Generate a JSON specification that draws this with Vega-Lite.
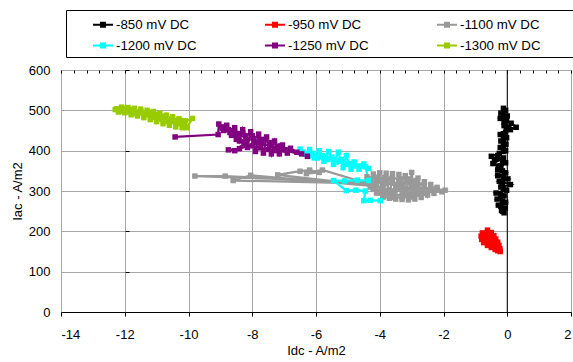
{
"$schema": "https://vega.github.io/schema/vega-lite/v6.json",
"width": 510, "height": 242,
"autosize": {"type": "none"},
"padding": {"left": 61, "top": 70, "right": 2, "bottom": 50},
"background": "white",
"config": {"font": "Liberation Sans", "view": {"stroke": null},
 "axis": {"labelFont": "Liberation Sans", "titleFont": "Liberation Sans", "labelFontSize": 13, "titleFontSize": 13, "labelColor": "black", "titleColor": "black", "titleFontWeight": "normal"},
 "legend": {"orient": "none", "legendX": 5, "legendY": -60, "direction": "horizontal", "columns": 3,
     "titleOrient": "left", "titlePadding": 22.5, "titleFontSize": 13,
     "strokeColor": "black", "strokeWidth": 1, "padding": 4.5, "fillColor": "white",
     "symbolType": "M-1,-0.1H1V0.1H-1Z M-0.3,-0.3H0.3V0.3H-0.3Z", "symbolSize": 400, "symbolStrokeWidth": 0, "symbolOpacity": 1,
     "labelFont": "Liberation Sans", "labelFontSize": 13.3, "labelColor": "black", "labelOffset": 3,
     "columnPadding": 35, "rowPadding": 4}},
"data": {"values": [
{"s":"-850 mV DC","i":1,"x":-0.12,"y":505},{"s":"-850 mV DC","i":2,"x":-0.05,"y":500},{"s":"-850 mV DC","i":3,"x":-0.2,"y":493},{"s":"-850 mV DC","i":4,"x":0.0,"y":486},{"s":"-850 mV DC","i":5,"x":-0.22,"y":480},{"s":"-850 mV DC","i":6,"x":-0.02,"y":474},{"s":"-850 mV DC","i":7,"x":0.12,"y":468},{"s":"-850 mV DC","i":8,"x":0.28,"y":458},{"s":"-850 mV DC","i":9,"x":0.1,"y":452},{"s":"-850 mV DC","i":10,"x":-0.1,"y":462},{"s":"-850 mV DC","i":11,"x":-0.05,"y":446},{"s":"-850 mV DC","i":12,"x":-0.22,"y":440},{"s":"-850 mV DC","i":13,"x":-0.02,"y":432},{"s":"-850 mV DC","i":14,"x":-0.2,"y":424},{"s":"-850 mV DC","i":15,"x":-0.04,"y":416},{"s":"-850 mV DC","i":16,"x":-0.22,"y":408},{"s":"-850 mV DC","i":17,"x":-0.05,"y":400},{"s":"-850 mV DC","i":18,"x":-0.25,"y":393},{"s":"-850 mV DC","i":19,"x":-0.5,"y":386},{"s":"-850 mV DC","i":20,"x":-0.4,"y":378},{"s":"-850 mV DC","i":21,"x":-0.12,"y":382},{"s":"-850 mV DC","i":22,"x":-0.45,"y":368},{"s":"-850 mV DC","i":23,"x":-0.28,"y":362},{"s":"-850 mV DC","i":24,"x":-0.05,"y":370},{"s":"-850 mV DC","i":25,"x":-0.3,"y":352},{"s":"-850 mV DC","i":26,"x":-0.05,"y":345},{"s":"-850 mV DC","i":27,"x":-0.3,"y":338},{"s":"-850 mV DC","i":28,"x":0.02,"y":330},{"s":"-850 mV DC","i":29,"x":-0.25,"y":324},{"s":"-850 mV DC","i":30,"x":0.1,"y":316},{"s":"-850 mV DC","i":31,"x":-0.2,"y":310},{"s":"-850 mV DC","i":32,"x":-0.02,"y":302},{"s":"-850 mV DC","i":33,"x":-0.35,"y":295},{"s":"-850 mV DC","i":34,"x":-0.1,"y":288},{"s":"-850 mV DC","i":35,"x":-0.32,"y":280},{"s":"-850 mV DC","i":36,"x":-0.05,"y":272},{"s":"-850 mV DC","i":37,"x":-0.28,"y":265},{"s":"-850 mV DC","i":38,"x":-0.06,"y":258},{"s":"-850 mV DC","i":39,"x":-0.18,"y":252},{"s":"-850 mV DC","i":40,"x":-0.1,"y":246},
{"s":"-850 mV DC","i":41,"x":-0.15,"y":250},{"s":"-850 mV DC","i":42,"x":-0.2,"y":262},{"s":"-850 mV DC","i":43,"x":-0.15,"y":275},{"s":"-850 mV DC","i":44,"x":-0.2,"y":290},{"s":"-850 mV DC","i":45,"x":-0.12,"y":305},{"s":"-850 mV DC","i":46,"x":-0.15,"y":320},{"s":"-850 mV DC","i":47,"x":-0.12,"y":335},{"s":"-850 mV DC","i":48,"x":-0.15,"y":350},{"s":"-850 mV DC","i":49,"x":-0.2,"y":362},{"s":"-850 mV DC","i":50,"x":-0.15,"y":375},{"s":"-850 mV DC","i":51,"x":-0.3,"y":388},{"s":"-850 mV DC","i":52,"x":-0.12,"y":398},{"s":"-850 mV DC","i":53,"x":-0.12,"y":412},{"s":"-850 mV DC","i":54,"x":-0.12,"y":428},{"s":"-850 mV DC","i":55,"x":-0.12,"y":442},{"s":"-850 mV DC","i":56,"x":0.05,"y":458},{"s":"-850 mV DC","i":57,"x":-0.1,"y":470},{"s":"-850 mV DC","i":58,"x":-0.1,"y":485},{"s":"-850 mV DC","i":59,"x":-0.1,"y":498},
{"s":"-950 mV DC","i":1,"x":-0.62,"y":203},{"s":"-950 mV DC","i":2,"x":-0.78,"y":196},{"s":"-950 mV DC","i":3,"x":-0.5,"y":197},{"s":"-950 mV DC","i":4,"x":-0.82,"y":188},{"s":"-950 mV DC","i":5,"x":-0.42,"y":189},{"s":"-950 mV DC","i":6,"x":-0.8,"y":180},{"s":"-950 mV DC","i":7,"x":-0.36,"y":181},{"s":"-950 mV DC","i":8,"x":-0.74,"y":172},{"s":"-950 mV DC","i":9,"x":-0.3,"y":173},{"s":"-950 mV DC","i":10,"x":-0.62,"y":165},{"s":"-950 mV DC","i":11,"x":-0.26,"y":165},{"s":"-950 mV DC","i":12,"x":-0.5,"y":160},{"s":"-950 mV DC","i":13,"x":-0.23,"y":157},{"s":"-950 mV DC","i":14,"x":-0.38,"y":155},{"s":"-950 mV DC","i":15,"x":-0.22,"y":150},{"s":"-950 mV DC","i":16,"x":-0.3,"y":152},{"s":"-950 mV DC","i":17,"x":-0.6,"y":184},{"s":"-950 mV DC","i":18,"x":-0.68,"y":192},{"s":"-950 mV DC","i":19,"x":-0.55,"y":176},
{"s":"-1100 mV DC","i":1,"x":-4.4,"y":335},{"s":"-1100 mV DC","i":2,"x":-4.3,"y":310},{"s":"-1100 mV DC","i":3,"x":-4.2,"y":342},{"s":"-1100 mV DC","i":4,"x":-4.1,"y":295},{"s":"-1100 mV DC","i":5,"x":-4.0,"y":345},{"s":"-1100 mV DC","i":6,"x":-3.9,"y":286},{"s":"-1100 mV DC","i":7,"x":-3.8,"y":344},{"s":"-1100 mV DC","i":8,"x":-3.7,"y":282},{"s":"-1100 mV DC","i":9,"x":-3.6,"y":343},{"s":"-1100 mV DC","i":10,"x":-3.5,"y":280},{"s":"-1100 mV DC","i":11,"x":-3.4,"y":341},{"s":"-1100 mV DC","i":12,"x":-3.3,"y":279},{"s":"-1100 mV DC","i":13,"x":-3.2,"y":338},{"s":"-1100 mV DC","i":14,"x":-3.1,"y":278},{"s":"-1100 mV DC","i":15,"x":-3.0,"y":346},{"s":"-1100 mV DC","i":16,"x":-2.9,"y":280},{"s":"-1100 mV DC","i":17,"x":-2.8,"y":332},{"s":"-1100 mV DC","i":18,"x":-2.7,"y":284},{"s":"-1100 mV DC","i":19,"x":-2.6,"y":323},{"s":"-1100 mV DC","i":20,"x":-2.5,"y":290},{"s":"-1100 mV DC","i":21,"x":-2.4,"y":316},{"s":"-1100 mV DC","i":22,"x":-2.3,"y":294},{"s":"-1100 mV DC","i":23,"x":-2.2,"y":309},{"s":"-1100 mV DC","i":24,"x":-2.05,"y":298},{"s":"-1100 mV DC","i":25,"x":-1.95,"y":302},{"s":"-1100 mV DC","i":26,"x":-2.3,"y":305},{"s":"-1100 mV DC","i":27,"x":-2.8,"y":305},{"s":"-1100 mV DC","i":28,"x":-3.3,"y":312},{"s":"-1100 mV DC","i":29,"x":-3.8,"y":318},{"s":"-1100 mV DC","i":30,"x":-4.3,"y":322},{"s":"-1100 mV DC","i":31,"x":-9.8,"y":337},{"s":"-1100 mV DC","i":32,"x":-8.85,"y":337},{"s":"-1100 mV DC","i":33,"x":-4.2,"y":318},{"s":"-1100 mV DC","i":34,"x":-8.6,"y":326},{"s":"-1100 mV DC","i":35,"x":-8.05,"y":339},{"s":"-1100 mV DC","i":36,"x":-3.9,"y":310},{"s":"-1100 mV DC","i":37,"x":-7.2,"y":340},{"s":"-1100 mV DC","i":38,"x":-6.5,"y":349},{"s":"-1100 mV DC","i":39,"x":-6.2,"y":352},{"s":"-1100 mV DC","i":40,"x":-5.9,"y":346},{"s":"-1100 mV DC","i":41,"x":-6.3,"y":343},{"s":"-1100 mV DC","i":42,"x":-5.8,"y":352},{"s":"-1100 mV DC","i":43,"x":-3.6,"y":300},{"s":"-1100 mV DC","i":44,"x":-3.4,"y":325},{"s":"-1100 mV DC","i":45,"x":-3.0,"y":315},{"s":"-1100 mV DC","i":46,"x":-2.6,"y":300},{"s":"-1100 mV DC","i":47,"x":-3.2,"y":292},{"s":"-1100 mV DC","i":48,"x":-3.7,"y":330},
{"s":"-1100 mV DC","i":49,"x":-4.35,"y":330},{"s":"-1100 mV DC","i":50,"x":-4.1,"y":334},{"s":"-1100 mV DC","i":51,"x":-3.85,"y":333},{"s":"-1100 mV DC","i":52,"x":-3.6,"y":332},{"s":"-1100 mV DC","i":53,"x":-3.35,"y":330},{"s":"-1100 mV DC","i":54,"x":-3.1,"y":330},{"s":"-1100 mV DC","i":55,"x":-2.85,"y":326},{"s":"-1100 mV DC","i":56,"x":-2.6,"y":314},{"s":"-1100 mV DC","i":57,"x":-2.85,"y":318},{"s":"-1100 mV DC","i":58,"x":-3.1,"y":320},{"s":"-1100 mV DC","i":59,"x":-3.35,"y":320},{"s":"-1100 mV DC","i":60,"x":-3.6,"y":320},{"s":"-1100 mV DC","i":61,"x":-3.85,"y":321},{"s":"-1100 mV DC","i":62,"x":-4.1,"y":322},{"s":"-1100 mV DC","i":63,"x":-4.35,"y":322},{"s":"-1100 mV DC","i":64,"x":-4.2,"y":304},{"s":"-1100 mV DC","i":65,"x":-3.95,"y":302},{"s":"-1100 mV DC","i":66,"x":-3.7,"y":303},{"s":"-1100 mV DC","i":67,"x":-3.45,"y":304},{"s":"-1100 mV DC","i":68,"x":-3.2,"y":305},{"s":"-1100 mV DC","i":69,"x":-2.95,"y":305},{"s":"-1100 mV DC","i":70,"x":-2.7,"y":304},{"s":"-1100 mV DC","i":71,"x":-2.45,"y":303},{"s":"-1100 mV DC","i":72,"x":-2.2,"y":302},{"s":"-1100 mV DC","i":73,"x":-2.55,"y":294},{"s":"-1100 mV DC","i":74,"x":-2.8,"y":292},{"s":"-1100 mV DC","i":75,"x":-3.05,"y":290},{"s":"-1100 mV DC","i":76,"x":-3.3,"y":290},{"s":"-1100 mV DC","i":77,"x":-3.55,"y":291},{"s":"-1100 mV DC","i":78,"x":-3.8,"y":293},{"s":"-1100 mV DC","i":79,"x":-4.05,"y":296},{"s":"-1100 mV DC","i":80,"x":-3.9,"y":285},{"s":"-1100 mV DC","i":81,"x":-3.6,"y":284},{"s":"-1100 mV DC","i":82,"x":-3.3,"y":284},{"s":"-1100 mV DC","i":83,"x":-3.0,"y":285},
{"s":"-1200 mV DC","i":1,"x":-6.5,"y":404},{"s":"-1200 mV DC","i":2,"x":-6.35,"y":392},{"s":"-1200 mV DC","i":3,"x":-6.2,"y":403},{"s":"-1200 mV DC","i":4,"x":-6.05,"y":382},{"s":"-1200 mV DC","i":5,"x":-5.9,"y":400},{"s":"-1200 mV DC","i":6,"x":-5.75,"y":374},{"s":"-1200 mV DC","i":7,"x":-5.6,"y":398},{"s":"-1200 mV DC","i":8,"x":-5.45,"y":366},{"s":"-1200 mV DC","i":9,"x":-5.3,"y":396},{"s":"-1200 mV DC","i":10,"x":-5.15,"y":358},{"s":"-1200 mV DC","i":11,"x":-5.05,"y":388},{"s":"-1200 mV DC","i":12,"x":-4.9,"y":354},{"s":"-1200 mV DC","i":13,"x":-4.8,"y":372},{"s":"-1200 mV DC","i":14,"x":-4.65,"y":354},{"s":"-1200 mV DC","i":15,"x":-4.5,"y":367},{"s":"-1200 mV DC","i":16,"x":-4.35,"y":356},
{"s":"-1200 mV DC","i":17,"x":-4.6,"y":362},{"s":"-1200 mV DC","i":18,"x":-4.9,"y":368},{"s":"-1200 mV DC","i":19,"x":-5.2,"y":378},{"s":"-1200 mV DC","i":20,"x":-5.5,"y":384},{"s":"-1200 mV DC","i":21,"x":-5.8,"y":388},{"s":"-1200 mV DC","i":22,"x":-6.1,"y":393},{"s":"-1200 mV DC","i":23,"x":-6.4,"y":396},{"s":"-1200 mV DC","i":24,"x":-6.25,"y":386},{"s":"-1200 mV DC","i":25,"x":-5.95,"y":382},{"s":"-1200 mV DC","i":26,"x":-5.65,"y":378},{"s":"-1200 mV DC","i":27,"x":-5.35,"y":372},{"s":"-1200 mV DC","i":28,"x":-5.05,"y":366},{"s":"-1200 mV DC","i":29,"x":-4.75,"y":362},{"s":"-1200 mV DC","i":30,"x":-4.45,"y":360},
{"s":"-1200 mV DC","i":31,"x":-4.35,"y":326},{"s":"-1200 mV DC","i":32,"x":-4.7,"y":327},{"s":"-1200 mV DC","i":33,"x":-5.1,"y":325},{"s":"-1200 mV DC","i":34,"x":-5.45,"y":326},{"s":"-1200 mV DC","i":35,"x":-5.05,"y":301},{"s":"-1200 mV DC","i":36,"x":-4.75,"y":302},{"s":"-1200 mV DC","i":37,"x":-4.45,"y":300},{"s":"-1200 mV DC","i":38,"x":-4.5,"y":276},{"s":"-1200 mV DC","i":39,"x":-4.3,"y":277},{"s":"-1200 mV DC","i":40,"x":-3.98,"y":276},
{"s":"-1250 mV DC","i":1,"x":-10.42,"y":434},{"s":"-1250 mV DC","i":2,"x":-9.07,"y":440},{"s":"-1250 mV DC","i":3,"x":-9.05,"y":466},{"s":"-1250 mV DC","i":4,"x":-8.9,"y":450},{"s":"-1250 mV DC","i":5,"x":-8.8,"y":463},{"s":"-1250 mV DC","i":6,"x":-8.65,"y":438},{"s":"-1250 mV DC","i":7,"x":-8.55,"y":457},{"s":"-1250 mV DC","i":8,"x":-8.4,"y":424},{"s":"-1250 mV DC","i":9,"x":-8.3,"y":452},{"s":"-1250 mV DC","i":10,"x":-8.15,"y":408},{"s":"-1250 mV DC","i":11,"x":-8.05,"y":447},{"s":"-1250 mV DC","i":12,"x":-7.9,"y":398},{"s":"-1250 mV DC","i":13,"x":-7.8,"y":441},{"s":"-1250 mV DC","i":14,"x":-7.65,"y":394},{"s":"-1250 mV DC","i":15,"x":-7.55,"y":434},{"s":"-1250 mV DC","i":16,"x":-7.4,"y":392},{"s":"-1250 mV DC","i":17,"x":-7.3,"y":424},{"s":"-1250 mV DC","i":18,"x":-7.15,"y":392},{"s":"-1250 mV DC","i":19,"x":-7.05,"y":414},{"s":"-1250 mV DC","i":20,"x":-6.9,"y":394},{"s":"-1250 mV DC","i":21,"x":-6.8,"y":406},{"s":"-1250 mV DC","i":22,"x":-6.6,"y":396},{"s":"-1250 mV DC","i":23,"x":-6.45,"y":392},{"s":"-1250 mV DC","i":24,"x":-6.27,"y":386},{"s":"-1250 mV DC","i":25,"x":-7.0,"y":402},{"s":"-1250 mV DC","i":26,"x":-7.8,"y":420},{"s":"-1250 mV DC","i":27,"x":-8.4,"y":405},{"s":"-1250 mV DC","i":28,"x":-8.75,"y":402},{"s":"-1250 mV DC","i":29,"x":-8.55,"y":400},{"s":"-1250 mV DC","i":30,"x":-8.2,"y":420},{"s":"-1250 mV DC","i":31,"x":-8.7,"y":445},
{"s":"-1250 mV DC","i":32,"x":-8.45,"y":440},{"s":"-1250 mV DC","i":33,"x":-8.2,"y":432},{"s":"-1250 mV DC","i":34,"x":-7.95,"y":425},{"s":"-1250 mV DC","i":35,"x":-7.7,"y":418},{"s":"-1250 mV DC","i":36,"x":-7.45,"y":412},{"s":"-1250 mV DC","i":37,"x":-7.2,"y":406},{"s":"-1250 mV DC","i":38,"x":-6.95,"y":402},{"s":"-1250 mV DC","i":39,"x":-7.25,"y":400},{"s":"-1250 mV DC","i":40,"x":-7.5,"y":403},{"s":"-1250 mV DC","i":41,"x":-7.75,"y":407},{"s":"-1250 mV DC","i":42,"x":-8.0,"y":412},{"s":"-1250 mV DC","i":43,"x":-8.25,"y":418},{"s":"-1250 mV DC","i":44,"x":-8.5,"y":428},{"s":"-1250 mV DC","i":45,"x":-8.75,"y":452},{"s":"-1250 mV DC","i":46,"x":-8.95,"y":456},{"s":"-1250 mV DC","i":47,"x":-8.9,"y":459},{"s":"-1250 mV DC","i":48,"x":-8.6,"y":450},{"s":"-1250 mV DC","i":49,"x":-8.3,"y":444},{"s":"-1250 mV DC","i":50,"x":-8.0,"y":437},{"s":"-1250 mV DC","i":51,"x":-7.7,"y":428},{"s":"-1250 mV DC","i":52,"x":-7.4,"y":420},{"s":"-1250 mV DC","i":53,"x":-7.1,"y":412},
{"s":"-1300 mV DC","i":1,"x":-12.3,"y":502},{"s":"-1300 mV DC","i":2,"x":-12.2,"y":496},{"s":"-1300 mV DC","i":3,"x":-12.1,"y":508},{"s":"-1300 mV DC","i":4,"x":-12.0,"y":494},{"s":"-1300 mV DC","i":5,"x":-11.9,"y":507},{"s":"-1300 mV DC","i":6,"x":-11.8,"y":489},{"s":"-1300 mV DC","i":7,"x":-11.7,"y":505},{"s":"-1300 mV DC","i":8,"x":-11.6,"y":486},{"s":"-1300 mV DC","i":9,"x":-11.5,"y":503},{"s":"-1300 mV DC","i":10,"x":-11.4,"y":482},{"s":"-1300 mV DC","i":11,"x":-11.3,"y":500},{"s":"-1300 mV DC","i":12,"x":-11.2,"y":477},{"s":"-1300 mV DC","i":13,"x":-11.1,"y":497},{"s":"-1300 mV DC","i":14,"x":-11.0,"y":472},{"s":"-1300 mV DC","i":15,"x":-10.9,"y":493},{"s":"-1300 mV DC","i":16,"x":-10.8,"y":467},{"s":"-1300 mV DC","i":17,"x":-10.7,"y":488},{"s":"-1300 mV DC","i":18,"x":-10.6,"y":463},{"s":"-1300 mV DC","i":19,"x":-10.5,"y":484},{"s":"-1300 mV DC","i":20,"x":-10.4,"y":459},{"s":"-1300 mV DC","i":21,"x":-10.3,"y":479},{"s":"-1300 mV DC","i":22,"x":-10.2,"y":457},{"s":"-1300 mV DC","i":23,"x":-10.1,"y":474},{"s":"-1300 mV DC","i":24,"x":-10.05,"y":457},{"s":"-1300 mV DC","i":25,"x":-9.88,"y":480},{"s":"-1300 mV DC","i":26,"x":-10.2,"y":468},{"s":"-1300 mV DC","i":27,"x":-10.7,"y":478},{"s":"-1300 mV DC","i":28,"x":-11.2,"y":488},{"s":"-1300 mV DC","i":29,"x":-11.7,"y":496},{"s":"-1300 mV DC","i":30,"x":-12.25,"y":504},
{"s":"-1300 mV DC","i":31,"x":-12.15,"y":497},{"s":"-1300 mV DC","i":32,"x":-11.9,"y":496},{"s":"-1300 mV DC","i":33,"x":-11.65,"y":492},{"s":"-1300 mV DC","i":34,"x":-11.4,"y":488},{"s":"-1300 mV DC","i":35,"x":-11.15,"y":483},{"s":"-1300 mV DC","i":36,"x":-10.9,"y":478},{"s":"-1300 mV DC","i":37,"x":-10.65,"y":472},{"s":"-1300 mV DC","i":38,"x":-10.4,"y":466},{"s":"-1300 mV DC","i":39,"x":-10.15,"y":461},{"s":"-1300 mV DC","i":40,"x":-10.25,"y":475},{"s":"-1300 mV DC","i":41,"x":-10.5,"y":480},{"s":"-1300 mV DC","i":42,"x":-10.75,"y":485},{"s":"-1300 mV DC","i":43,"x":-11.0,"y":490},{"s":"-1300 mV DC","i":44,"x":-11.25,"y":495},{"s":"-1300 mV DC","i":45,"x":-11.5,"y":499},{"s":"-1300 mV DC","i":46,"x":-11.75,"y":502},{"s":"-1300 mV DC","i":47,"x":-12.0,"y":505}
]},
"resolve": {"axis": {"x": "independent", "y": "independent"}},
"layer": [
{"mark": {"type": "line", "strokeWidth": 2.25},
 "encoding": {
  "x": {"field": "x", "type": "quantitative", "scale": {"domain": [-14, 2], "nice": false, "zero": false},
        "axis": {"values": [-14,-12,-10,-8,-6,-4,-2,0,2], "labelExpr": "toString(datum.value)", "grid": true, "gridColor": "#a8a8a8", "domainColor": "black", "tickColor": "black", "tickSize": 4, "labelPadding": 12, "title": "Idc - A/m2", "titlePadding": 3}},
  "y": {"field": "y", "type": "quantitative", "scale": {"domain": [0, 600], "nice": false},
        "axis": {"values": [0,100,200,300,400,500,600], "labelExpr": "toString(datum.value)", "grid": true, "gridColor": "#a8a8a8", "ticks": false, "domain": false, "labelPadding": 11, "title": "Iac - A/m2", "titleX": -44, "titleY": 121, "titleAngle": -90, "titleAlign": "center", "titleBaseline": "middle"}},
  "color": {"field": "s", "type": "nominal", "scale": {"domain": ["-850 mV DC","-950 mV DC","-1100 mV DC","-1200 mV DC","-1250 mV DC","-1300 mV DC"], "range": ["#000000","#FF0000","#999999","#00FFFF","#800080","#99CC00"]},
   "legend": {"title": "\u00a0", "encode": {"symbols": {"update": {"fill": {"scale": "color", "field": "value"}, "strokeWidth": {"value": 0}}}, "labels": {"update": {"text": {"signal": "datum.label + '\u00a0\u00a0\u00a0\u00a0\u00a0\u00a0\u00a0\u00a0\u00a0\u200b'"}}}}}},
  "order": {"field": "i", "type": "quantitative"}
 }},
{"data": {"values": [{}]},
 "mark": {"type": "rule", "color": "black", "strokeWidth": 1},
 "encoding": {
  "x": {"datum": 0, "type": "quantitative",
        "axis": {"values": [-14,-13.6,-13.2,-12.8,-12.4,-12,-11.6,-11.2,-10.8,-10.4,-10,-9.6,-9.2,-8.8,-8.4,-8,-7.6,-7.2,-6.8,-6.4,-6,-5.6,-5.2,-4.8,-4.4,-4,-3.6,-3.2,-2.8,-2.4,-2,-1.6,-1.2,-0.8,-0.4,0,0.4,0.8,1.2,1.6,2], "labels": false, "grid": false, "domain": false, "ticks": true, "tickSize": -3, "tickColor": "black", "title": null}}
 }},
{"mark": {"type": "point", "shape": "square", "filled": true, "size": 30, "opacity": 1},
 "encoding": {
  "x": {"field": "x", "type": "quantitative", "axis": null},
  "y": {"field": "y", "type": "quantitative",
        "axis": {"values": [100,200,300,400,500,600], "offset": -446, "labels": false, "grid": false, "domain": false, "ticks": true, "tickSize": 4, "tickColor": "black", "title": null}},
  "color": {"field": "s", "type": "nominal",
   "legend": {"title": "\u00a0", "encode": {"symbols": {"update": {"fill": {"scale": "color", "field": "value"}, "strokeWidth": {"value": 0}}}, "labels": {"update": {"text": {"signal": "datum.label + '\u00a0\u00a0\u00a0\u00a0\u00a0\u00a0\u00a0\u00a0\u00a0\u200b'"}}}}}}
 }}
]
}
